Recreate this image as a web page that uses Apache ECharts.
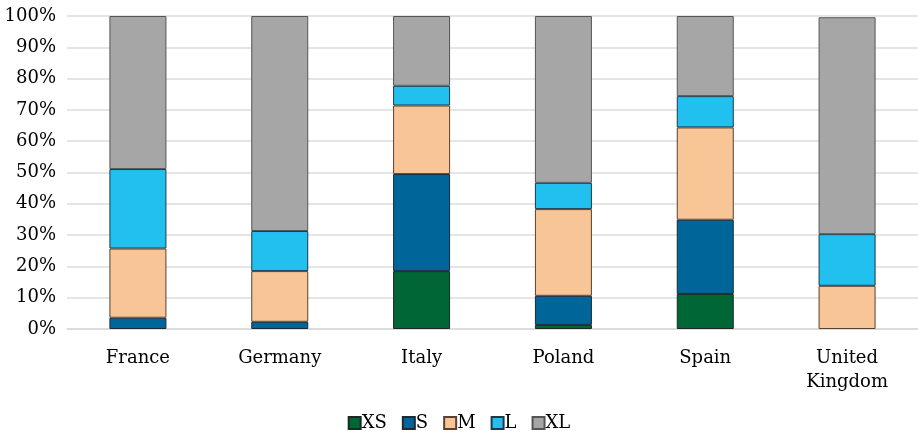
<!DOCTYPE html>
<html>
<head>
<meta charset="utf-8">
<script src="https://cdn.jsdelivr.net/npm/echarts@6/dist/echarts.min.js"></script>
<style>
  html, body { margin: 0; padding: 0; background: #fff; }
  #chart { width: 918px; height: 431px; }
</style>
</head>
<body>
<div id="chart"></div>
<script>
// countries on the x axis
var countries = ['France', 'Germany', 'Italy', 'Poland', 'Spain', 'United\nKingdom'];
// share of each size class, percent
var XS = [0, 0, 18.5, 1.3, 11.2, 0];
var S  = [3.6, 2.3, 31.0, 9.3, 23.7, 0];
var M  = [22.1, 16.2, 21.9, 27.7, 29.5, 13.8];
var L  = [25.4, 12.8, 6.3, 8.4, 10.0, 16.5];
var XL = [48.9, 68.7, 22.3, 53.3, 25.6, 69.3];

var seriesNames = ['XS', 'S', 'M', 'L', 'XL'];
var seriesData = [XS, S, M, L, XL];
var colors = ['#006635', '#00669a', '#f8c596', '#22c0ee', '#a6a6a6'];
var borders = ['#1a2a20', '#1a2a3a', '#5a4030', '#1a3a4a', '#555555'];

var chart = echarts.init(document.getElementById('chart'));

var series = seriesNames.map(function (name, i) {
    return {
        name: name,
        type: 'bar',
        stack: 'total',
        barWidth: 57,
        data: seriesData[i].map(function (v) { return v === 0 ? '-' : v; }),
        itemStyle: {
            color: colors[i],
            borderColor: borders[i],
            borderWidth: 1
        }
    };
});

var option = {
    animation: false,
    textStyle: { fontFamily: 'DejaVu Serif' },
    grid: { left: 67, right: 0, top: 16, bottom: 102 },
    legend: {
        top: 409,
        left: 'center',
        icon: 'rect',
        itemWidth: 12,
        itemHeight: 12,
        itemGap: 15,
        textStyle: { fontSize: 18, color: '#000', fontFamily: 'DejaVu Serif', padding: [0, 0, 0, -4] },
        data: seriesNames
    },
    xAxis: {
        type: 'category',
        data: countries,
        axisTick: { show: false },
        axisLine: { lineStyle: { color: '#d9d9d9', width: 1.5 } },
        axisLabel: { fontSize: 18, color: '#000', margin: 17, lineHeight: 24, fontFamily: 'DejaVu Serif' }
    },
    yAxis: {
        type: 'value',
        min: 0,
        max: 100,
        interval: 10,
        axisLabel: { formatter: '{value}%', fontSize: 18, color: '#000', margin: 11, fontFamily: 'DejaVu Serif' },
        splitLine: { lineStyle: { color: '#dcdcdc', width: 1.5 } },
        axisLine: { show: false },
        axisTick: { show: false }
    },
    series: series
};

chart.setOption(option);
</script>
</body>
</html>
